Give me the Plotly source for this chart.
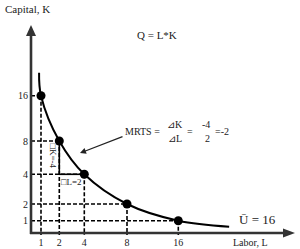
import numpy as np
import plotly.graph_objects as go

# ---- data ----
labor = [1, 2, 4, 8, 16]
capital = [16, 8, 4, 2, 1]
tick_labels = ["1", "2", "4", "8", "16"]
# curve values (U = 16), including its visible ends
curve_L = [0.93, 1, 2, 4, 8, 16, 31.8]
curve_K = [22.75, 16, 8, 4, 2, 1, 0.78]

# ---- schematic (non-uniform) axis scales: pixel position of each tick value ----
X_TICK_POS = [41, 59.3, 84.3, 127, 178.3]
Y_TICK_POS = [220.7, 204, 174.3, 141, 95.7]
ORIGIN_X, ORIGIN_Y = 31, 233
W, H = 300, 249


def scale(v, tick_pos):
    lv = np.log2(np.asarray(v, dtype=float))
    t = np.arange(len(tick_pos))
    p = np.interp(lv, t, tick_pos)
    lo = lv < t[0]
    hi = lv > t[-1]
    p = np.where(lo, tick_pos[0] + (lv - t[0]) * (tick_pos[1] - tick_pos[0]), p)
    p = np.where(hi, tick_pos[-1] + (lv - t[-1]) * (tick_pos[-1] - tick_pos[-2]), p)
    return p


sx = lambda v: scale(v, X_TICK_POS)
sy = lambda v: scale(v, Y_TICK_POS)

FONT = "Liberation Serif, 'Times New Roman', 'DejaVu Serif', serif"
INK = "#222222"
AXIS = "#333333"

px_ = sx(labor)
py_ = sy(capital)

fig = go.Figure()

shapes = []
# dashed guide lines
for x, y in zip(px_, py_):
    shapes.append(dict(type="line", x0=ORIGIN_X, y0=y, x1=x, y1=y,
                       line=dict(color="black", width=1.6, dash="4px,2px")))
    shapes.append(dict(type="line", x0=x, y0=y, x1=x, y1=ORIGIN_Y + 2,
                       line=dict(color="black", width=1.6, dash="4px,2px")))
# solid triangle between (2,8) and (4,4)
shapes.append(dict(type="line", x0=px_[1], y0=py_[1], x1=px_[1], y1=py_[2],
                   line=dict(color="black", width=1.6)))
shapes.append(dict(type="line", x0=px_[1], y0=py_[2], x1=px_[2], y1=py_[2],
                   line=dict(color="black", width=1.6)))
# axes with arrow heads
shapes.append(dict(type="line", x0=ORIGIN_X, y0=ORIGIN_Y + 1, x1=ORIGIN_X, y1=33,
                   line=dict(color=AXIS, width=2.6)))
shapes.append(dict(type="line", x0=ORIGIN_X - 1, y0=ORIGIN_Y, x1=285, y1=ORIGIN_Y,
                   line=dict(color=AXIS, width=2.6)))
shapes.append(dict(type="path", path=f"M {ORIGIN_X},25 L {ORIGIN_X-5},36 L {ORIGIN_X+5},36 Z",
                   fillcolor=AXIS, line=dict(width=0)))
shapes.append(dict(type="path", path=f"M 295,{ORIGIN_Y} L 283,{ORIGIN_Y-4.5} L 283,{ORIGIN_Y+4.5} Z",
                   fillcolor=AXIS, line=dict(width=0)))

# iso-quant curve
fig.add_trace(go.Scatter(x=sx(curve_L), y=sy(curve_K), mode="lines",
                         line=dict(color="black", width=2, shape="spline", smoothing=1),
                         hoverinfo="skip", showlegend=False))
# points
fig.add_trace(go.Scatter(x=px_, y=py_, mode="markers",
                         marker=dict(color="black", size=9),
                         showlegend=False))

ann = []


def txt(x, y, s, size=10, **kw):
    ann.append(dict(x=x, y=y, text=s, showarrow=False, xref="x", yref="y",
                    font=dict(family=FONT, size=size, color=INK), **kw))


txt(3, 9, "Capital, K", 11, xanchor="left")
txt(157, 35, "Q = L*K", 11)
txt(250, 242, "Labor, L", 10)
txt(257, 219, "Ū = 16", 13)
txt(52.5, 156, "□K=-4", 9, textangle=90)
txt(71, 182, "□L=2", 9)
txt(142, 131, "MRTS =", 10)
txt(175, 124, "⊿K", 10)
txt(175, 138, "⊿L", 10)
txt(190, 131, "=", 10)
txt(206, 124, "-4", 10)
txt(207, 138, "2", 10)
txt(222, 131, "=-2", 10)
# MRTS arrow
ann.append(dict(x=80, y=153, ax=124, ay=136, xref="x", yref="y", axref="x", ayref="y",
                text="", showarrow=True, arrowhead=2, arrowsize=1, arrowwidth=1.2,
                arrowcolor=INK))

fig.update_layout(
    width=W, height=H, margin=dict(l=0, r=0, t=0, b=0),
    paper_bgcolor="white", plot_bgcolor="white",
    shapes=shapes, annotations=ann, showlegend=False,
    xaxis=dict(range=[0, W], showgrid=False, zeroline=False, showline=False,
               anchor="free", position=(H - ORIGIN_Y) / H, side="bottom",
               tickmode="array", tickvals=list(px_), ticktext=tick_labels,
               ticks="", ticklabelstandoff=2,
               tickfont=dict(family=FONT, size=10, color=INK), fixedrange=True),
    yaxis=dict(range=[H, 0], showgrid=False, zeroline=False, showline=False,
               anchor="free", position=ORIGIN_X / W, side="left",
               tickmode="array", tickvals=list(sy([16, 8, 4, 2, 1])),
               ticktext=["16", "8", "4", "2", "1"],
               ticks="", ticklabelstandoff=3,
               tickfont=dict(family=FONT, size=10, color=INK), fixedrange=True),
)

fig.write_html("out.html", config={"displayModeBar": False})
